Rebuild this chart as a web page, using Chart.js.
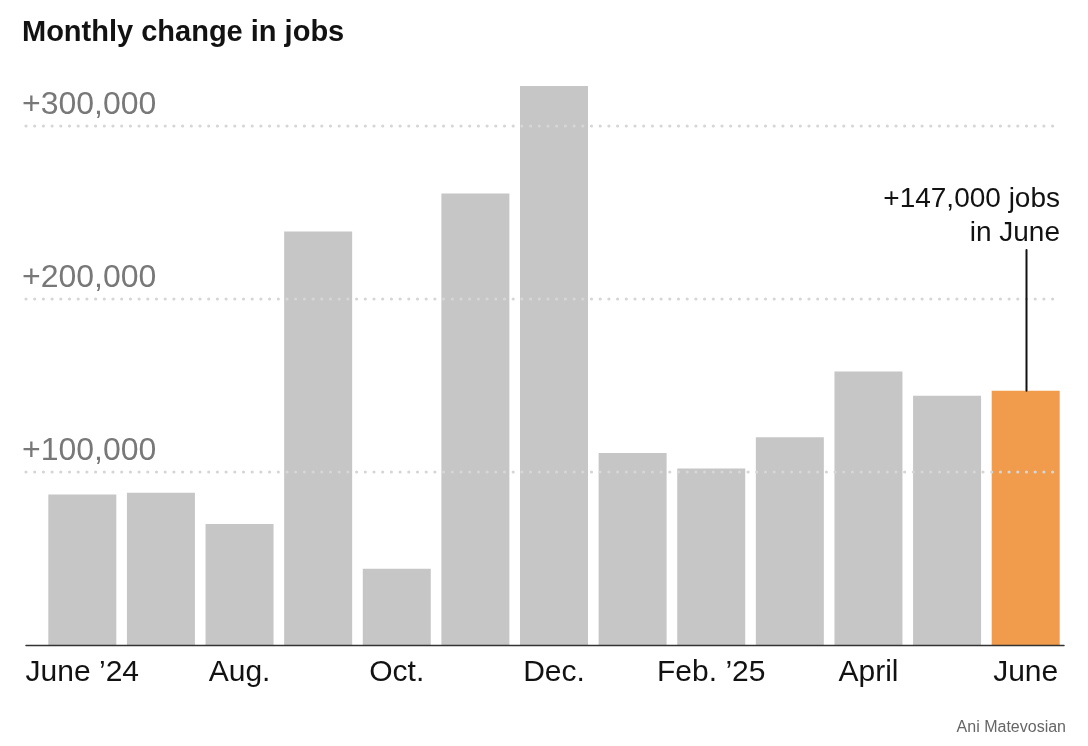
<!DOCTYPE html>
<html>
<head>
<meta charset="utf-8">
<script src="https://cdn.jsdelivr.net/npm/chart.js@4"></script>
<style>
  html, body { margin: 0; padding: 0; background: #ffffff; }
  #wrap { position: relative; width: 1088px; height: 746px; }
</style>
</head>
<body>
<div id="wrap"><canvas id="jobsChart"></canvas></div>
<script>
const months = ["June ’24", "July", "Aug.", "Sept.", "Oct.", "Nov.", "Dec.", "Jan. ’25", "Feb. ’25", "March", "April", "May", "June"];
const shownLabels = ["June ’24", "Aug.", "Oct.", "Dec.", "Feb. ’25", "April", "June"];
const jobChanges = [87000, 88000, 70000, 239000, 44000, 261000, 323000, 111000, 102000, 120000, 158000, 144000, 147000];
const yTicks = [100000, 200000, 300000];

const grayBar = "#c6c6c6";
const orangeBar = "#f19c4c";
const fontFamily = "\"Liberation Sans\", Arial, sans-serif";

const lastIndex = jobChanges.length - 1;

const overlayPlugin = {
  id: "overlay",
  afterDatasetsDraw(chart) {
    const ctx = chart.ctx;
    const xScale = chart.scales.x;
    const yScale = chart.scales.y;
    ctx.save();

    // dotted gridlines, drawn on top of the bars
    ctx.strokeStyle = "#d6d6d6";
    ctx.lineWidth = 3.2;
    ctx.lineCap = "round";
    ctx.setLineDash([0, 8.7]);
    yTicks.forEach((v) => {
      const y = Math.round(yScale.getPixelForValue(v));
      ctx.beginPath();
      ctx.moveTo(26, y);
      ctx.lineTo(1058, y);
      ctx.stroke();
    });
    ctx.setLineDash([]);

    // tick labels above the gridlines
    ctx.fillStyle = "#787878";
    ctx.font = "300 32px " + fontFamily;
    ctx.textAlign = "left";
    ctx.textBaseline = "alphabetic";
    yTicks.forEach((v) => {
      const y = yScale.getPixelForValue(v);
      ctx.fillText("+" + v.toLocaleString("en-US"), 22, y - 12);
    });

    // zero baseline
    const y0 = Math.round(yScale.getPixelForValue(0)) + 0.5;
    ctx.strokeStyle = "#333333";
    ctx.lineWidth = 1.5;
    ctx.beginPath();
    ctx.moveTo(26, y0);
    ctx.lineTo(1064, y0);
    ctx.stroke();

    // title and credit
    ctx.fillStyle = "#121212";
    ctx.font = "bold 29px " + fontFamily;
    ctx.fillText("Monthly change in jobs", 22, 41);
    ctx.fillStyle = "#666666";
    ctx.font = "16px " + fontFamily;
    ctx.textAlign = "right";
    ctx.fillText("Ani Matevosian", 1066, 732);

    // annotation for the latest month
    const ax = Math.round(xScale.getPixelForValue(lastIndex)) + 0.5;
    const ay = yScale.getPixelForValue(jobChanges[lastIndex]);
    ctx.fillStyle = "#121212";
    ctx.font = "28px " + fontFamily;
    ctx.fillText("+" + jobChanges[lastIndex].toLocaleString("en-US") + " jobs", 1060, 207);
    ctx.fillText("in " + months[lastIndex], 1060, 241);
    ctx.strokeStyle = "#121212";
    ctx.lineWidth = 2;
    ctx.beginPath();
    ctx.moveTo(ax, 250);
    ctx.lineTo(ax, ay);
    ctx.stroke();

    ctx.restore();
  }
};

new Chart(document.getElementById("jobsChart"), {
  type: "bar",
  data: {
    labels: months,
    datasets: [
      {
        data: jobChanges,
        backgroundColor: jobChanges.map((v, i) => (i === lastIndex ? orangeBar : grayBar)),
        borderWidth: 0,
        barPercentage: 0.865,
        categoryPercentage: 1
      }
    ]
  },
  options: {
    responsive: true,
    maintainAspectRatio: false,
    animation: false,
    layout: {
      padding: { left: 43, right: 23, top: 74, bottom: 45 }
    },
    plugins: {
      legend: { display: false },
      tooltip: { enabled: false }
    },
    scales: {
      x: {
        grid: { display: false, drawTicks: false },
        border: { display: false },
        ticks: {
          autoSkip: false,
          maxRotation: 0,
          padding: 10,
          color: "#121212",
          font: { family: fontFamily, size: 30 },
          callback(value, index) {
            return shownLabels.includes(months[index]) ? months[index] : "";
          }
        }
      },
      y: {
        display: false,
        min: 0,
        max: 330000
      }
    }
  },
  plugins: [overlayPlugin]
});
</script>
</body>
</html>
